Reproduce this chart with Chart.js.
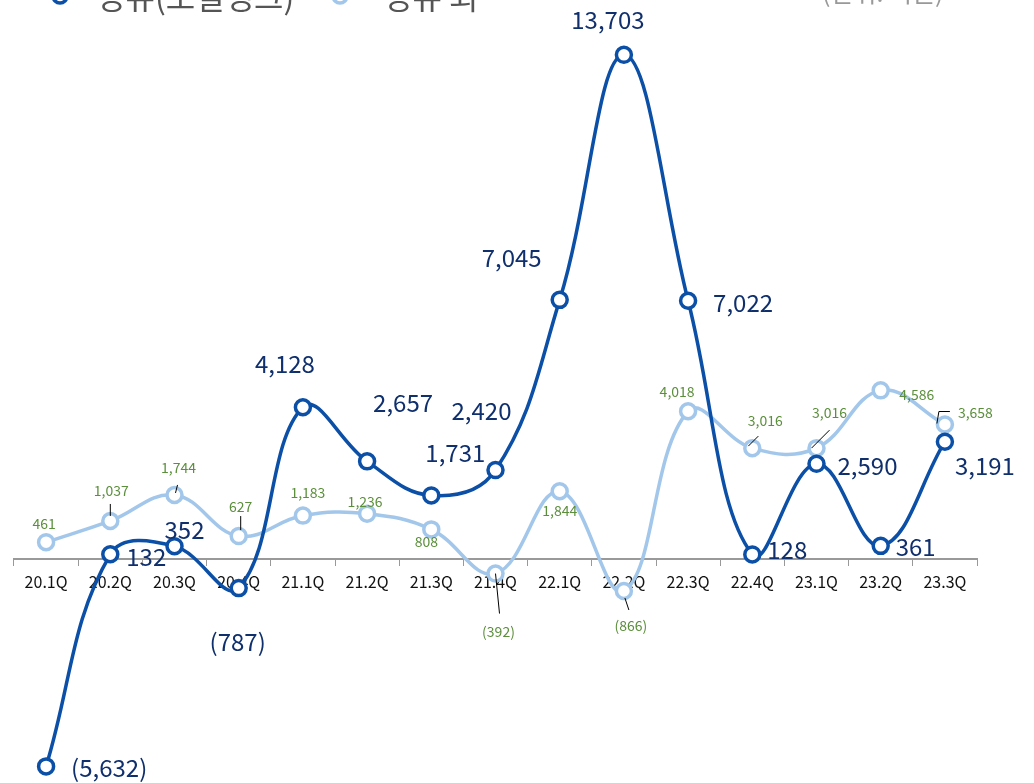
<!DOCTYPE html>
<html>
<head>
<meta charset="utf-8">
<script src="https://cdn.jsdelivr.net/npm/chart.js@4/dist/chart.umd.min.js"></script>
<style>
  html, body { margin: 0; padding: 0; background: #fff; }
  #wrap { position: relative; width: 1034px; height: 783px; }
</style>
</head>
<body>
<div id="wrap"><canvas id="c"></canvas></div>
<script>
// quarters and earnings (억원)
const quarters = ['20.1Q','20.2Q','20.3Q','20.4Q','21.1Q','21.2Q','21.3Q','21.4Q',
                  '22.1Q','22.2Q','22.3Q','22.4Q','23.1Q','23.2Q','23.3Q'];
const refining    = [-5632, 132, 352, -787, 4128, 2657, 1731, 2420, 7045, 13703, 7022, 128, 2590, 361, 3191];
const nonRefining = [461, 1037, 1744, 627, 1183, 1236, 808, -392, 1844, -866, 4018, 3016, 3016, 4586, 3658];
const seriesNames = ['정유(오일뱅크)', '정유 외'];
const unitText = '(단위: 억원)';

const DARK = '#0b4fa6';
const LIGHT = '#a2c7ea';
const FONT = '"Noto Sans CJK KR", "Noto Sans", sans-serif';

// label placement relative to each point: [dx, dy, align]
const darkLabelPos = [
    [25, 1, 'left'], [16, 3, 'left'], [10, -16, 'center'], [-1, 54, 'center'],
    [-18, -43, 'center'], [36, -58, 'center'], [24, -43, 'center'], [-14, -59, 'center'],
    [-48, -42, 'center'], [-16, -35, 'center'], [55, 2, 'center'], [15, -5, 'left'],
    [21, 2, 'left'], [15, 1, 'left'], [10, 24, 'left']
];
const lightLabelPos = [
    [-2, -18, 'center'], [1, -30, 'center'], [4, -27, 'center'], [2, -29, 'center'],
    [5, -23, 'center'], [-2, -12, 'center'], [-5, 12, 'center'], [3, 58, 'center'],
    [0, 19, 'center'], [7, 35, 'center'], [-11, -20, 'center'], [13, -27, 'center'],
    [13, -35, 'center'], [36, 4, 'center'], [13, -12, 'left']
];
// small leader lines (polyline, relative to point)
const lightLeaders = {
    1: [[0, -5], [0, -17]],
    2: [[1, -2], [3, -10]],
    3: [[2, -6], [2, -20]],
    7: [[0, 0], [4, 40]],
    9: [[1, 7], [5, 19]],
    11: [[-4, -2], [6, -12]],
    12: [[-5, 0], [13, -18]],
    14: [[-8, -1], [-6, -13], [5, -13]]
};

function fmt(v) {
    const s = Math.abs(v).toLocaleString('en-US');
    return v < 0 ? '(' + s + ')' : s;
}

const labelPlugin = {
    id: 'pointLabels',
    afterDatasetsDraw(chart) {
        const ctx = chart.ctx;
        ctx.save();
        ctx.textBaseline = 'middle';

        // light series labels + leaders
        const lm = chart.getDatasetMeta(1);
        ctx.strokeStyle = '#000';
        ctx.lineWidth = 1;
        lm.data.forEach((pt, i) => {
            const seg = lightLeaders[i];
            if (seg) {
                ctx.beginPath();
                seg.forEach((p, k) => k ? ctx.lineTo(pt.x + p[0], pt.y + p[1]) : ctx.moveTo(pt.x + p[0], pt.y + p[1]));
                ctx.stroke();
            }
            const [dx, dy, al] = lightLabelPos[i];
            ctx.font = '14px ' + FONT;
            ctx.fillStyle = '#5b8f3b';
            ctx.textAlign = al;
            ctx.fillText(fmt(nonRefining[i]), pt.x + dx, pt.y + dy);
        });

        const dm = chart.getDatasetMeta(0);
        dm.data.forEach((pt, i) => {
            const [dx, dy, al] = darkLabelPos[i];
            ctx.font = '24px ' + FONT;
            ctx.fillStyle = '#0f2f6d';
            ctx.textAlign = al;
            ctx.fillText(fmt(refining[i]), pt.x + dx, pt.y + dy);
        });

        // legend (cut off at the top edge like the source image)
        ctx.lineWidth = 3.5;
        ctx.fillStyle = '#fff';
        ctx.strokeStyle = DARK;
        ctx.beginPath(); ctx.arc(60, -4, 7, 0, Math.PI * 2); ctx.fill(); ctx.stroke();
        ctx.strokeStyle = LIGHT;
        ctx.beginPath(); ctx.arc(340, -4, 7, 0, Math.PI * 2); ctx.fill(); ctx.stroke();
        ctx.font = '32px ' + FONT;
        ctx.fillStyle = '#555';
        ctx.textAlign = 'left';
        ctx.textBaseline = 'alphabetic';
        ctx.fillText(seriesNames[0], 96, 9);
        ctx.fillText(seriesNames[1], 383, 9);
        ctx.font = '25px ' + FONT;
        ctx.fillStyle = '#999';
        ctx.fillText(unitText, 822, 2);
        ctx.restore();
    }
};

new Chart(document.getElementById('c'), {
    type: 'line',
    data: {
        labels: quarters,
        datasets: [
            {
                label: seriesNames[0],
                data: refining,
                borderColor: DARK,
                borderWidth: 3.5,
                tension: 0.4,
                pointRadius: 7.5,
                pointBorderWidth: 3.5,
                pointBackgroundColor: '#fff',
                pointBorderColor: DARK,
                clip: false,
                order: 1
            },
            {
                label: seriesNames[1],
                data: nonRefining,
                borderColor: LIGHT,
                borderWidth: 3.5,
                tension: 0.4,
                pointRadius: 7.5,
                pointBorderWidth: 3.5,
                pointBackgroundColor: '#fff',
                pointBorderColor: LIGHT,
                clip: false,
                order: 2
            }
        ]
    },
    options: {
        responsive: true,
        maintainAspectRatio: false,
        animation: false,
        layout: { padding: { left: 14, right: 57, top: 5, bottom: 2 } },
        plugins: { legend: { display: false }, tooltip: { enabled: false } },
        scales: {
            x: {
                position: { y: 0 },
                offset: true,
                grid: { offset: true, drawOnChartArea: false, drawTicks: true, tickLength: 6, color: '#999' },
                border: { display: true, color: '#999', width: 2 },
                ticks: { color: '#111', font: { family: FONT, size: 16 }, padding: 7, maxRotation: 0 }
            },
            y: {
                display: false,
                min: -5784,
                max: 14894
            }
        }
    },
    plugins: [labelPlugin]
});
</script>
</body>
</html>
